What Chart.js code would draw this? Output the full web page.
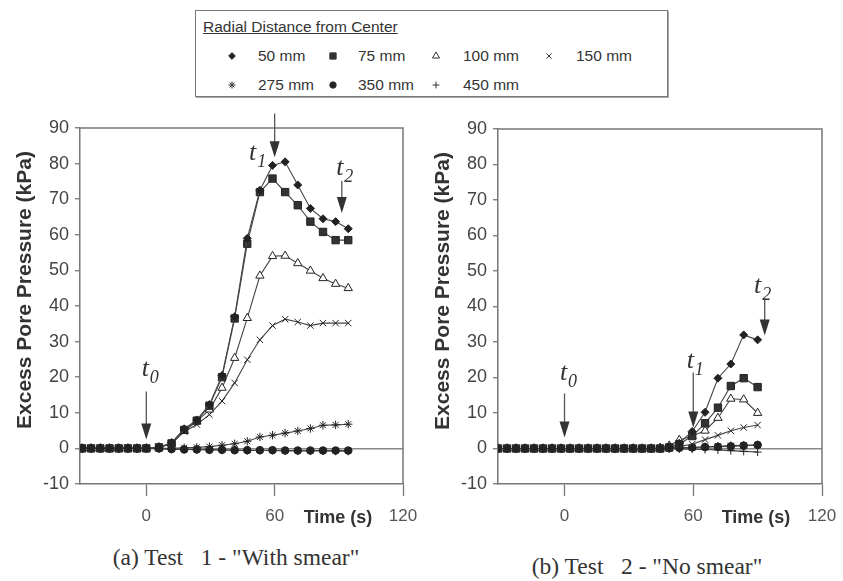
<!DOCTYPE html>
<html>
<head>
<meta charset="utf-8">
<script src="https://cdn.jsdelivr.net/npm/chart.js@4.4.0/dist/chart.umd.min.js"></script>
<style>
  body { margin: 0; background: #fff; width: 843px; height: 581px; position: relative; overflow: hidden;
         font-family: "Liberation Sans", Arial, sans-serif; }
  #legend { position: absolute; left: 195px; top: 10px; width: 471px; height: 85px;
            border: 1.5px solid #777; box-shadow: 1px 1px 0 #aaa; color: #333; font-size: 15.5px; }
  #legend .title { position: absolute; left: 7px; top: 7px; text-decoration: underline; }
  #legend .item { position: absolute; white-space: nowrap; line-height: 18px; }
  #legend canvas { position: absolute; }
  .panel { position: absolute; top: 110px; height: 420px; }
  .caption { position: absolute; font-family: "Liberation Serif", "Times New Roman", serif; font-size: 23.5px;
             color: #333; white-space: pre; transform: translateX(-50%); }
</style>
</head>
<body>
<div id="legend"><div class="title">Radial Distance from Center</div></div>
<div class="panel" style="left:0; width:430px;"><canvas id="chartA"></canvas></div>
<div class="panel" style="left:418px; width:435px;"><canvas id="chartB"></canvas></div>
<div class="caption" style="left:236px; top:544px;">(a) Test   1 - "With smear"</div>
<div class="caption" style="left:647px; top:553px;">(b) Test   2 - "No smear"</div>

<script>
// series names
const distances = ['50 mm', '75 mm', '100 mm', '150 mm', '275 mm', '350 mm', '450 mm'];

// Test 1 - "With smear"
const timeTest1 = [-30, -25.8, -21.5, -17.2, -12.9, -8.6, -4.3, 0, 5.9, 11.8, 17.7, 23.6, 29.5, 35.4,
                   41.3, 47.2, 53.1, 59, 64.9, 70.8, 76.7, 82.6, 88.5, 94.4];
const t1_50  = [0, 0, 0, 0, 0, 0, 0, 0, 0.3, 1.6, 5.5, 8, 12.3, 20.5, 37, 59, 72.5, 79.5, 80.5, 74, 67.4, 64.5, 63.7, 61.7];
const t1_75  = [0, 0, 0, 0, 0, 0, 0, 0, 0.3, 1.4, 5.2, 7.8, 12, 20, 36.5, 57.5, 72, 75.8, 72, 68.3, 63.7, 60.8, 58.5, 58.5];
const t1_100 = [0, 0, 0, 0, 0, 0, 0, 0, 0.3, 1.4, 4.9, 7.6, 10.9, 17, 25.4, 36.6, 48.5, 54, 54.1, 52, 49.9, 47.8, 46.2, 45];
const t1_150 = [0, 0, 0, 0, 0, 0, 0, 0, 0.3, 1.4, 4.7, 6.7, 9.5, 13.3, 18.4, 24.9, 30.5, 34.5, 36.3, 35.5, 34.5, 35.2, 35.2, 35.2];
const t1_275 = [0, 0, 0, 0, 0, 0, 0, 0, 0, 0, 0.2, 0.3, 0.5, 0.9, 1.3, 2, 3.2, 3.7, 4.3, 4.9, 5.6, 6.5, 6.6, 6.8];
const t1_350 = [0, 0, 0, 0, 0, 0, 0, 0, 0, -0.2, -0.3, -0.3, -0.4, -0.4, -0.5, -0.5, -0.5, -0.5, -0.6, -0.6, -0.6, -0.6, -0.6, -0.6];
const t1_450 = [0, 0, 0, 0, 0, 0, 0, 0, 0, -0.2, -0.3, -0.4, -0.4, -0.5, -0.5, -0.6, -0.6, -0.6, -0.7, -0.7, -0.7, -0.7, -0.8, -0.8];

// Test 2 - "No smear"
const timeTest2 = [-31, -26.8, -22.6, -18.4, -14.2, -10, -5.8, -1.6, 2.6, 6.8, 11, 15.2, 19.4, 23.6, 27.8,
                   32, 36.2, 40.4, 44.6, 48.8, 53.5, 59.5, 65.5, 71.5, 77.5, 83.5, 90];
const t2_50  = [0, 0, 0, 0, 0, 0, 0, 0, 0, 0, 0, 0, 0, 0, 0, 0, 0, 0, 0, 0.5, 1.5, 4.8, 10.2, 19.8, 23.8, 32, 30.6];
const t2_75  = [0, 0, 0, 0, 0, 0, 0, 0, 0, 0, 0, 0, 0, 0, 0, 0, 0, 0, 0, 0.3, 1.2, 3.5, 7.1, 11.5, 17.6, 19.8, 17.3];
const t2_100 = [0, 0, 0, 0, 0, 0, 0, 0, 0, 0, 0, 0, 0, 0, 0, 0, 0, 0, 0.2, 0.8, 2.4, 3.5, 5, 8.6, 14, 13.8, 10];
const t2_150 = [0, 0, 0, 0, 0, 0, 0, 0, 0, 0, 0, 0, 0, 0, 0, 0, 0, 0, 0, 0.2, 0.6, 1.2, 2.5, 3.7, 5, 5.9, 6.6];
const t2_275 = [0, 0, 0, 0, 0, 0, 0, 0, 0, 0, 0, 0, 0, 0, 0, 0, 0, 0, 0, 0, 0.1, 0.3, 0.5, 0.6, 0.8, 0.9, 1];
const t2_350 = [0, 0, 0, 0, 0, 0, 0, 0, 0, 0, 0, 0, 0, 0, 0, 0, 0, 0, 0, 0.1, 0.2, 0.3, 0.4, 0.5, 0.6, 0.8, 1];
const t2_450 = [0, 0, 0, 0, 0, 0, 0, 0, 0, 0, 0, 0, 0, 0, 0, 0, 0, 0, 0, 0, -0.1, -0.2, -0.3, -0.4, -0.6, -0.8, -1];

// axis ticks
const yTicks = [-10, 0, 10, 20, 30, 40, 50, 60, 70, 80, 90];
const xTicks = [0, 60, 120];

// marker styles
const pointStyles = ['rectRot', 'rect', 'triangle', 'crossRot', 'star', 'circle', 'cross'];
const pointRadii = [4, 5.2, 4.8, 4.5, 4.2, 3.8, 4];
const pointFill = ['#222', '#333', '#fff', '#333', '#333', '#222', '#333'];

const framePlugin = {
    id: 'frame',
    afterDraw(chart, args, opts) {
        const { ctx, chartArea: a, scales: { x, y } } = chart;
        ctx.save();
        ctx.strokeStyle = '#777';
        ctx.lineWidth = 1.5;
        ctx.beginPath();
        ctx.moveTo(a.left, a.top);
        ctx.lineTo(a.right, a.top);
        ctx.lineTo(a.right, a.bottom);
        ctx.stroke();

        // t0 / t1 / t2 arrows
        for (const ar of opts.list) {
            const px = x.getPixelForValue(ar.time);
            const top = y.getPixelForValue(ar.from);
            const tip = y.getPixelForValue(ar.to);
            ctx.strokeStyle = '#555';
            ctx.lineWidth = 1.3;
            ctx.beginPath();
            ctx.moveTo(px, top);
            ctx.lineTo(px, tip - 12);
            ctx.stroke();
            ctx.fillStyle = '#333';
            ctx.beginPath();
            ctx.moveTo(px - 5, tip - 16);
            ctx.lineTo(px + 5, tip - 16);
            ctx.lineTo(px, tip);
            ctx.closePath();
            ctx.fill();
            ctx.fillStyle = '#333';
            ctx.textAlign = 'center';
            ctx.textBaseline = 'alphabetic';
            ctx.font = 'italic 26px "Liberation Serif"';
            ctx.fillText('t', px + ar.dx, top + ar.dy);
            ctx.font = 'italic 18px "Liberation Serif"';
            ctx.fillText(ar.sub, px + ar.dx + 9, top + ar.dy + 7);
        }

        // axis names
        ctx.fillStyle = '#333';
        ctx.textAlign = 'center';
        ctx.textBaseline = 'middle';
        ctx.font = 'bold 18px "Liberation Sans"';
        ctx.fillText('Time (s)', a.left + 258, a.bottom + 34);
        ctx.save();
        ctx.translate(a.left - 55, a.top + 162);
        ctx.rotate(-Math.PI / 2);
        ctx.font = 'bold 21px "Liberation Sans"';
        ctx.fillText('Excess Pore Pressure (kPa)', 0, 0);
        ctx.restore();
        ctx.restore();
    }
};

function makePanel(id, times, series, arrows, pad) {
    const datasets = series.map((vals, i) => ({
        label: distances[i],
        data: times.map((t, k) => ({ x: t, y: vals[k] })),
        showLine: true,
        borderColor: '#444',
        borderWidth: 1.1,
        pointStyle: pointStyles[i],
        pointRadius: pointRadii[i],
        pointBackgroundColor: pointFill[i],
        pointBorderColor: '#222',
        pointBorderWidth: 1
    }));

    return new Chart(document.getElementById(id), {
        type: 'scatter',
        data: { datasets: datasets },
        plugins: [framePlugin],
        options: {
            responsive: true,
            maintainAspectRatio: false,
            animation: false,
            layout: { padding: pad },
            plugins: {
                legend: { display: false },
                tooltip: { enabled: false },
                frame: { list: arrows }
            },
            scales: {
                x: {
                    type: 'linear',
                    min: -31,
                    max: 120,
                    afterBuildTicks: s => { s.ticks = xTicks.map(v => ({ value: v })); },
                    ticks: { color: '#555', font: { size: 17, family: 'Liberation Sans' }, padding: 10, maxRotation: 0, autoSkip: false },
                    grid: { drawOnChartArea: false, tickLength: 12, tickColor: '#777', tickWidth: 1.3 },
                    border: { color: '#777', width: 1.5 },
                    afterFit: s => { s.height = 46; }
                },
                y: {
                    min: -10,
                    max: 90,
                    afterBuildTicks: s => { s.ticks = yTicks.map(v => ({ value: v })); },
                    ticks: { color: '#444', font: { size: 18, family: 'Liberation Sans' }, padding: 6 },
                    grid: {
                        color: c => (c.tick && c.tick.value === 0) ? '#888' : 'rgba(0,0,0,0)',
                        lineWidth: 1.5,
                        tickColor: '#777',
                        tickWidth: 1.3,
                        tickLength: 5
                    },
                    border: { color: '#777', width: 1.5 },
                    afterFit: s => { s.width = 80; }
                }
            }
        }
    });
}

makePanel('chartA', timeTest1, [t1_50, t1_75, t1_100, t1_150, t1_275, t1_350, t1_450], [
    { time: 0, from: 16, to: 2.5, sub: '0', dx: -1, dy: -15 },
    { time: 60, from: 94.1, to: 81.8, sub: '1', dx: -22, dy: 47 },
    { time: 91.4, from: 75.1, to: 66.1, sub: '2', dx: -2, dy: -6 }
], { top: 18, right: 27, bottom: 0, left: 0 });

makePanel('chartB', timeTest2, [t2_50, t2_75, t2_100, t2_150, t2_275, t2_350, t2_450], [
    { time: 0, from: 15.5, to: 3.1, sub: '0', dx: -1, dy: -13 },
    { time: 60, from: 21.4, to: 5.9, sub: '1', dx: -3, dy: -5 },
    { time: 93.3, from: 42.3, to: 31.8, sub: '2', dx: -7, dy: -5 }
], { top: 19, right: 31, bottom: 0, left: 0 });

// legend box
const legend = document.getElementById('legend');
const markerX = [36, 137, 240, 353];
const textX = [62, 162, 267, 380];
const rowY = [45, 74];
distances.forEach((name, i) => {
    const col = i % 4, row = Math.floor(i / 4);
    const cv = document.createElement('canvas');
    cv.width = 16; cv.height = 16;
    cv.style.left = (markerX[col] - 8) + 'px';
    cv.style.top = (rowY[row] - 8) + 'px';
    legend.appendChild(cv);
    const c = cv.getContext('2d');
    c.fillStyle = pointFill[i];
    c.strokeStyle = '#333';
    c.lineWidth = 1;
    Chart.helpers.drawPoint(c, { pointStyle: pointStyles[i], radius: pointRadii[i] * 0.85, borderWidth: 1, rotation: 0 }, 8, 8);
    const s = document.createElement('div');
    s.className = 'item';
    s.textContent = name;
    s.style.left = textX[col] + 'px';
    s.style.top = (rowY[row] - 9) + 'px';
    legend.appendChild(s);
});
</script>
</body>
</html>
